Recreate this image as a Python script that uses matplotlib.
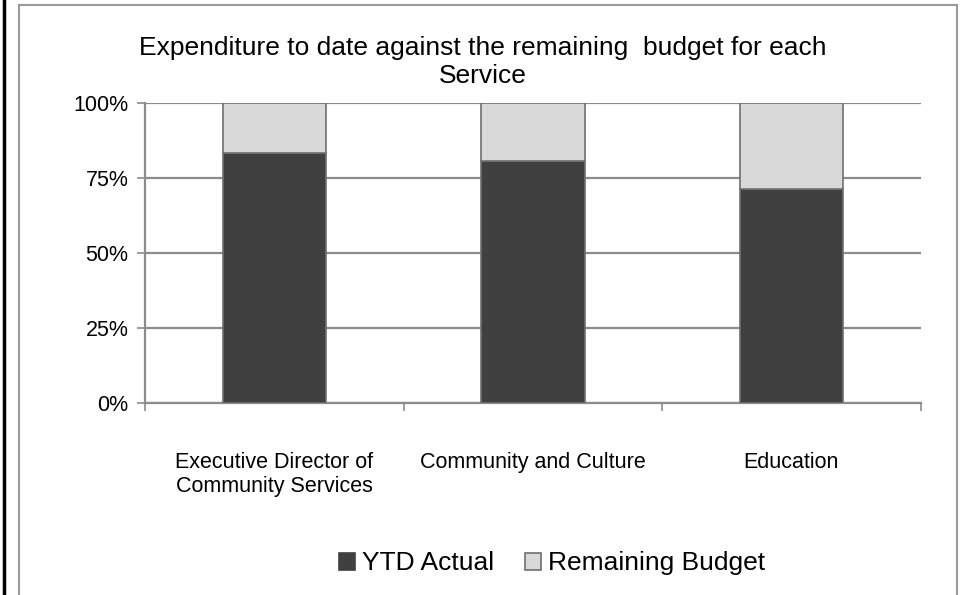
import matplotlib
matplotlib.use("Agg")
import matplotlib.pyplot as plt
from matplotlib.lines import Line2D
from matplotlib.patches import Rectangle
import numpy as np

plt.rcParams["font.family"] = ["Liberation Sans", "DejaVu Sans"]

services = ["Executive Director of\nCommunity Services", "Community and Culture", "Education"]
ytd_actual = [83.4, 80.7, 71.3]
remaining_budget = [16.6, 19.3, 28.7]
y_ticks = [0, 25, 50, 75, 100]
y_tick_labels = ["0%", "25%", "50%", "75%", "100%"]

dark = "#404040"
light = "#d9d9d9"
edge = "#6f6f6f"
grid = "#8c8c8c"

fig = plt.figure(figsize=(9.6, 5.95), dpi=100)
ax = fig.add_axes([0.151, 0.3227, 0.808, 0.5042])

x = np.arange(len(services))
ax.bar(x, ytd_actual, width=0.4, color=dark, edgecolor=edge, linewidth=1.2,
       label="YTD Actual", zorder=3)
ax.bar(x, remaining_budget, width=0.4, bottom=ytd_actual, color=light,
       edgecolor=edge, linewidth=1.2, label="Remaining Budget", zorder=3)

ax.set_xlim(-0.5, 2.5)
ax.set_ylim(0, 100)
ax.set_yticks(y_ticks)
ax.set_yticklabels(y_tick_labels, fontsize=15.5)
ax.yaxis.grid(True, color=grid, linewidth=1.6)
ax.set_axisbelow(True)

ax.set_xticks(x)
ax.set_xticklabels(services, fontsize=15.5, linespacing=1.2)
ax.tick_params(axis="x", which="major", length=0, pad=35)
ax.set_xticks([-0.5, 0.5, 1.5, 2.5], minor=True)
ax.tick_params(axis="x", which="minor", length=6, width=1.2, color=grid)
ax.tick_params(axis="y", length=6, width=1.2, color=grid, pad=6)

for side in ["top", "right"]:
    ax.spines[side].set_visible(False)
for side in ["left", "bottom"]:
    ax.spines[side].set_color(grid)
    ax.spines[side].set_linewidth(1.6)

fig.text(0.503, 0.896, "Expenditure to date against the remaining  budget for each\nService",
         ha="center", va="center", fontsize=19, linespacing=1.23)

leg = ax.legend(loc="center", bbox_to_anchor=(0.575, 0.053), bbox_transform=fig.transFigure,
                ncol=2, frameon=False, fontsize=19, handlelength=0.6, handleheight=0.6,
                handletextpad=0.25, columnspacing=1.2)
leg.legend_handles[0].set_edgecolor(dark)

# chart frame and cell edge
fig.add_artist(Rectangle((19 / 960, -0.05), 938 / 960, 1 - 5 / 595 + 0.05,
                         transform=fig.transFigure, fill=False,
                         edgecolor="#9a9a9a", linewidth=1.5))
fig.add_artist(Line2D([4 / 960, 4 / 960], [0, 1], transform=fig.transFigure,
                      color="black", linewidth=2.5))

fig.savefig("out.png", dpi=100)
